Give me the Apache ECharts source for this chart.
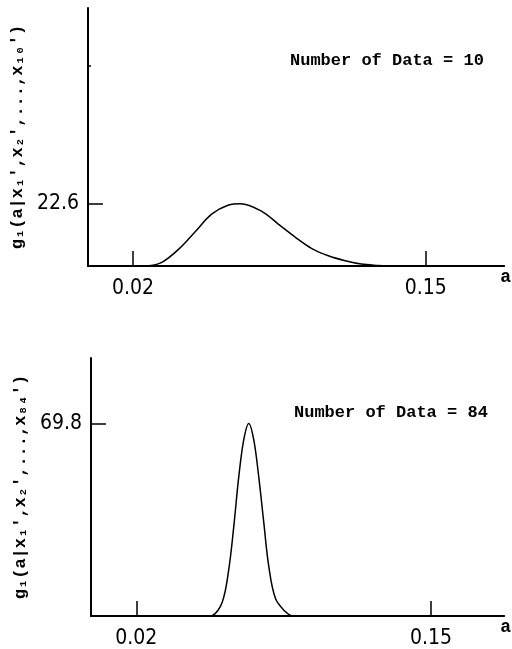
<!DOCTYPE html>
<html>
<head>
<meta charset="utf-8">
<script src="https://cdn.jsdelivr.net/npm/echarts@6/dist/echarts.min.js"></script>
<style>html,body{margin:0;padding:0;background:#fff;}#c{width:512px;height:649px;}</style>
</head>
<body>
<div id="c"></div>
<script>
// Top panel (Number of Data = 10)
var topX = [0.0240, 0.0271, 0.0328, 0.0403, 0.0479, 0.0549, 0.0624, 0.0678, 0.0770, 0.0845, 0.0921, 0.0992, 0.1067, 0.1142, 0.1213, 0.1288, 0.1340];
var topY = [0, 0.1, 1.3, 6.1, 12.7, 18.8, 22.1, 22.6, 19.9, 15.2, 10.4, 6.4, 3.7, 1.9, 0.7, 0.2, 0];
// Bottom panel (Number of Data = 84)
var botX = [0.0520, 0.0534, 0.0579, 0.0608, 0.0630, 0.0652, 0.0674, 0.0696, 0.0718, 0.0740, 0.0762, 0.0784, 0.0814, 0.0857, 0.0885, 0.0900];
var botY = [0, 0.1, 5.0, 17.0, 32.5, 50.5, 63.9, 69.8, 63.9, 50.5, 34.1, 18.2, 6.3, 1.6, 0.1, 0];
var xTicks = [0.02, 0.15];
var topYLabel = [22.6];
var topYMinor = [72.5];
var botYLabel = [69.8];
var titles = ['Number of Data = 10', 'Number of Data = 84'];
var yNames = ["g\u2081(a|x\u2081',x\u2082',...,x\u2081\u2080')", "g\u2081(a|x\u2081',x\u2082',...,x\u2088\u2084')"];

function zip(xs, ys) { return xs.map(function (x, i) { return [x, ys[i]]; }); }

var numFont = "'Liberation Sans Narrow','DejaVu Sans Condensed','Liberation Sans',sans-serif";
var monoFont = "'Liberation Mono','DejaVu Sans Mono',monospace";

function xAxis(gi, max) {
  return {
    type: 'value', gridIndex: gi, min: 0, max: max,
    splitLine: { show: false },
    axisLine: { lineStyle: { color: '#000', width: 2 } },
    axisTick: { show: true, inside: true, length: 15, customValues: xTicks, lineStyle: { color: '#000', width: 1.5 } },
    axisLabel: { customValues: xTicks, color: '#000', fontFamily: numFont, fontSize: 21, margin: 12,
      formatter: function (v) { return v.toFixed(2); } },
    name: 'a', nameLocation: 'end', nameGap: -4,
    nameTextStyle: { color: '#000', fontFamily: monoFont, fontSize: 18, fontWeight: 'bold', verticalAlign: 'top', padding: [2, 0, 0, 0] }
  };
}
function yAxis(gi, labels, name, gap) {
  return {
    type: 'value', gridIndex: gi, min: 0, max: 93.5, position: 'left',
    splitLine: { show: false },
    axisLine: { lineStyle: { color: '#000', width: 2 } },
    axisTick: { show: true, inside: true, length: 15, customValues: labels, lineStyle: { color: '#000', width: 1.5 } },
    axisLabel: { customValues: labels, color: '#000', fontFamily: numFont, fontSize: 21, margin: 9,
      formatter: function (v) { return v.toFixed(1); } },
    name: name, nameLocation: 'middle', nameRotate: 90, nameGap: gap,
    nameTextStyle: { color: '#000', fontFamily: monoFont, fontSize: 17, fontWeight: 'bold' }
  };
}

var chart = echarts.init(document.getElementById('c'), null, { renderer: 'canvas' });
chart.setOption({
  backgroundColor: '#fff',
  animation: false,
  title: [
    { text: titles[0], left: 285, top: 47, textStyle: { color: '#000', fontFamily: monoFont, fontSize: 17, fontWeight: 'bold' } },
    { text: titles[1], left: 289, top: 399, textStyle: { color: '#000', fontFamily: monoFont, fontSize: 17, fontWeight: 'bold' } }
  ],
  grid: [
    { left: 88, top: 8, width: 418, height: 258 },
    { left: 91, top: 358, width: 415, height: 260 }
  ],
  xAxis: [xAxis(0, 0.1848), xAxis(1, 0.1823)],
  yAxis: [
    yAxis(0, topYLabel, yNames[0], 60),
    {
      type: 'value', gridIndex: 0, min: 0, max: 93.5, position: 'left', offset: 0, splitLine: { show: false },
      axisLine: { show: false }, axisLabel: { show: false },
      axisTick: { show: true, inside: true, length: 3, customValues: topYMinor, lineStyle: { color: '#000', width: 1.5 } }
    },
    yAxis(1, botYLabel, yNames[1], 60)
  ],
  series: [
    { type: 'line', xAxisIndex: 0, yAxisIndex: 0, data: zip(topX, topY), smooth: 0.35, showSymbol: false,
      lineStyle: { color: '#000', width: 1.5 } },
    { type: 'line', xAxisIndex: 1, yAxisIndex: 2, data: zip(botX, botY), smooth: 0.35, showSymbol: false,
      lineStyle: { color: '#000', width: 1.5 } }
  ]
});
</script>
</body>
</html>
